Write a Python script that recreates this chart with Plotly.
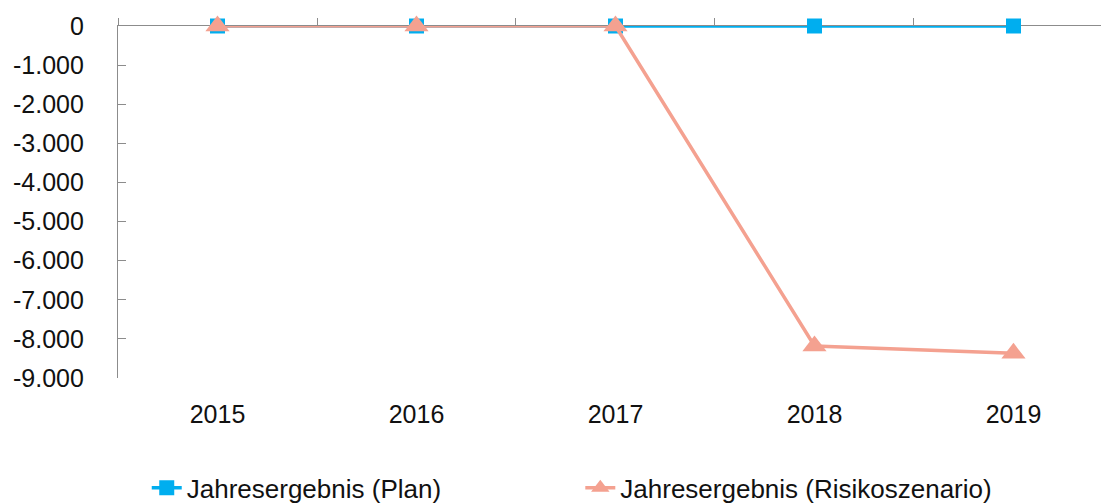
import plotly.graph_objects as go

years = ["2015", "2016", "2017", "2018", "2019"]
plan = [0, 0, 0, 0, 0]
risk = [0, 0, 0, -8180, -8370]
ytick_vals = [0, -1000, -2000, -3000, -4000, -5000, -6000, -7000, -8000, -9000]
ytick_text = ["0", "-1.000", "-2.000", "-3.000", "-4.000", "-5.000", "-6.000", "-7.000", "-8.000", "-9.000"]

BLUE = "#00AEEF"
SALMON = "#F4A190"
GRAY = "#8C8C8C"
FONT = dict(family="Liberation Sans, Arial, sans-serif", size=25, color="#111111")
LFONT = dict(family="Liberation Sans, Arial, sans-serif", size=26, color="#111111")

fig = go.Figure()
fig.add_trace(go.Scatter(
    x=years, y=plan, name="Jahresergebnis (Plan)", mode="lines+markers",
    line=dict(color=BLUE, width=3.5),
    marker=dict(symbol="square", size=15, color=BLUE),
    cliponaxis=False, legend="legend",
))
fig.add_trace(go.Scatter(
    x=years, y=risk, name="Jahresergebnis (Risikoszenario)", mode="lines+markers",
    line=dict(color=SALMON, width=3.5),
    marker=dict(symbol="triangle-up", size=21, color=SALMON),
    cliponaxis=False, legend="legend2",
))
# invisible trace to anchor the top axis
fig.add_trace(go.Scatter(x=years, y=plan, xaxis="x2", mode="lines",
                         line=dict(width=0), showlegend=False, hoverinfo="skip"))

# the page body has an 8px default margin, so the figure is 8px smaller
fig.update_layout(
    width=1101, height=495,
    margin=dict(l=110, r=0, t=18, b=125, autoexpand=False),
    paper_bgcolor="white", plot_bgcolor="white",
    font=FONT,
    showlegend=True,
    legend=dict(orientation="h", x=0.029, xanchor="left", y=-0.245, yanchor="top",
                font=LFONT, bgcolor="rgba(0,0,0,0)"),
    legend2=dict(orientation="h", x=0.4665, xanchor="left", y=-0.245, yanchor="top",
                 font=LFONT, bgcolor="rgba(0,0,0,0)"),
    xaxis=dict(
        type="category", range=[-0.5, 4.48], showline=False, showgrid=False,
        zeroline=False, ticks="outside", ticklen=14, tickcolor="rgba(0,0,0,0)",
        tickfont=FONT, automargin=False,
    ),
    xaxis2=dict(
        type="category", overlaying="x", side="top", range=[-0.5, 4.48],
        showline=True, linecolor=GRAY, linewidth=1.3, showgrid=False,
        zeroline=False, ticks="outside", ticklen=7, tickcolor=GRAY,
        tickson="boundaries", showticklabels=False, layer="below traces",
        automargin=False,
    ),
    yaxis=dict(
        range=[-9000, 0], showline=True, linecolor=GRAY, linewidth=1.3,
        showgrid=False, zeroline=False, ticks="inside", ticklen=8,
        tickcolor=GRAY, tickvals=ytick_vals, ticktext=ytick_text,
        ticklabelstandoff=28, tickfont=FONT, automargin=False,
    ),
)

fig.write_html("out.html")
